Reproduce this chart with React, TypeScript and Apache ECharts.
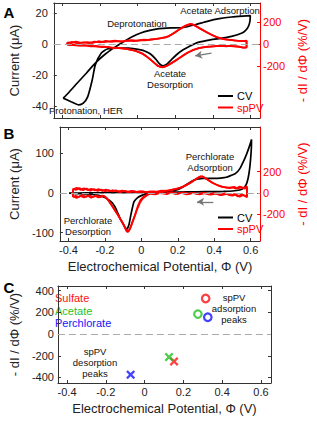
import React, { useEffect, useRef } from "react";
import * as echarts from "echarts";

// ---------- data ----------
const xTicks = [-0.4, -0.2, 0, 0.2, 0.4, 0.6];
const yTicksA = [-40, -20, 0, 20];
const yTicksB = [-100, 0, 100];
const yTicksC = [-400, -200, 0, 200, 400];
const rightTicks = [-200, 0, 200];

// Panel A: cyclic voltammogram (V, µA)
const cvA: number[][] = [
  [-0.397, -35], [-0.371, -31.8], [-0.323, -25.3], [-0.274, -18.8], [-0.226, -12.2], [-0.177, -6.8],
  [-0.129, -2.5], [-0.081, 1.2], [-0.032, 4.7], [0.016, 7.3], [0.065, 9.0], [0.113, 10.1], [0.177, 10.6],
  [0.242, 10.9], [0.306, 12.7], [0.371, 14.9], [0.435, 16.6], [0.5, 17.7], [0.56, 18.3], [0.6, 18.6],
  [0.598, 15], [0.59, 11.6], [0.575, 9], [0.556, 7.3], [0.5, 5.1], [0.451, 4.0], [0.387, 2.9], [0.322, 1.2],
  [0.274, -1.4], [0.242, -3.6], [0.21, -6.5], [0.18, -10], [0.155, -13], [0.135, -14], [0.115, -12.5],
  [0.095, -9.5], [0.07, -6.5], [0.04, -4.5], [0.016, -3.6], [-0.048, -2.5], [-0.113, -2.5], [-0.162, -3.1],
  [-0.194, -5.7], [-0.226, -13.4], [-0.242, -23.1], [-0.266, -34], [-0.29, -38.3], [-0.314, -39.4],
  [-0.355, -37.3], [-0.397, -35],
];

// Panel A: spPV cycles (V, %/V)
const spA1: number[][] = [
  [-0.375, 12], [-0.35, 22], [-0.32, 8], [-0.29, 18], [-0.26, 10], [-0.23, 24], [-0.2, 18], [-0.17, 32],
  [-0.14, 22], [-0.11, 30], [-0.08, 26], [-0.05, 35], [-0.02, 30], [0.01, 38], [0.04, 36], [0.07, 44],
  [0.1, 50], [0.13, 58], [0.16, 70], [0.19, 100], [0.22, 135], [0.245, 162], [0.265, 178], [0.28, 186],
  [0.295, 180], [0.31, 165], [0.33, 145], [0.36, 118], [0.39, 90], [0.42, 66], [0.45, 50], [0.48, 42],
  [0.51, 36], [0.54, 32], [0.565, 30], [0.58, 28], [0.58, -30], [0.565, -32], [0.54, -22], [0.51, -18],
  [0.48, -14], [0.45, -16], [0.42, -14], [0.39, -20], [0.36, -24], [0.33, -32], [0.3, -48], [0.27, -72],
  [0.24, -105], [0.21, -140], [0.18, -172], [0.155, -198], [0.13, -212], [0.11, -200], [0.09, -172],
  [0.07, -142], [0.05, -115], [0.03, -90], [0.0, -68], [-0.03, -52], [-0.06, -42], [-0.09, -36],
  [-0.12, -30], [-0.15, -28], [-0.18, -22], [-0.21, -20], [-0.24, -14], [-0.27, -12], [-0.3, -8],
  [-0.33, -10], [-0.36, -4], [-0.375, -2], [-0.375, 12],
];
const spA2: number[][] = [
  [-0.375, 18], [-0.355, 10], [-0.33, 25], [-0.3, 14], [-0.27, 20], [-0.24, 12], [-0.21, 28], [-0.18, 20],
  [-0.15, 26], [-0.12, 34], [-0.09, 24], [-0.06, 32], [-0.03, 38], [0.0, 32], [0.03, 42], [0.06, 40],
  [0.09, 48], [0.12, 54], [0.15, 64], [0.18, 88], [0.21, 122], [0.235, 150], [0.255, 170], [0.275, 182],
  [0.29, 184], [0.305, 172], [0.32, 158], [0.345, 132], [0.375, 104], [0.405, 78], [0.435, 58], [0.465, 46],
  [0.495, 40], [0.525, 34], [0.555, 30], [0.58, 34], [0.58, -26], [0.56, -28], [0.53, -20], [0.5, -14],
  [0.47, -18], [0.44, -12], [0.41, -18], [0.38, -22], [0.35, -28], [0.32, -38], [0.29, -56], [0.26, -82],
  [0.23, -115], [0.2, -150], [0.17, -182], [0.145, -205], [0.125, -208], [0.105, -195], [0.085, -165],
  [0.065, -135], [0.045, -108], [0.02, -80], [-0.01, -60], [-0.04, -48], [-0.07, -40], [-0.1, -32],
  [-0.13, -34], [-0.16, -24], [-0.19, -26], [-0.22, -16], [-0.25, -18], [-0.28, -10], [-0.31, -12],
  [-0.34, -6], [-0.36, -8], [-0.375, 0], [-0.375, 18],
];

// Panel B: cyclic voltammogram (V, µA)
const cvB: number[][] = [
  [-0.397, -1], [-0.3, 0], [-0.2, 0.3], [-0.1, 0.6], [0, 1], [0.1, 1.5], [0.145, 2.5], [0.17, 4.5],
  [0.193, 7], [0.218, 12], [0.242, 19], [0.266, 26], [0.29, 32], [0.315, 35], [0.339, 36], [0.37, 36],
  [0.403, 36], [0.435, 37], [0.467, 39], [0.49, 43], [0.516, 48], [0.54, 60], [0.564, 82], [0.578, 97],
  [0.59, 112], [0.6, 126], [0.605, 134], [0.604, 112], [0.6, 85], [0.594, 58], [0.586, 36], [0.575, 20],
  [0.56, 11], [0.54, 7], [0.5, 4.5], [0.45, 3.5], [0.4, 3], [0.3, 2.5], [0.2, 2], [0.1, 0.5], [0.05, -1.5],
  [0.02, -4], [0, -7], [-0.02, -12], [-0.04, -22], [-0.056, -52], [-0.068, -80], [-0.08, -91],
  [-0.09, -86], [-0.1, -78], [-0.113, -68], [-0.13, -50], [-0.145, -35], [-0.16, -25], [-0.178, -18],
  [-0.21, -10], [-0.24, -6], [-0.3, -3], [-0.35, -2], [-0.397, -1],
];

// Panel B: spPV cycles (V, %/V)
const spB1: number[][] = [
  [-0.375, 30], [-0.355, 48], [-0.335, 28], [-0.315, 42], [-0.295, 26], [-0.275, 38], [-0.255, 22],
  [-0.235, 34], [-0.215, 18], [-0.195, 30], [-0.175, 14], [-0.155, 24], [-0.13, 10], [-0.105, 20],
  [-0.08, 8], [-0.055, 18], [-0.03, 6], [-0.005, 16], [0.02, 4], [0.05, 14], [0.08, 8], [0.11, 20],
  [0.14, 18], [0.17, 30], [0.2, 40], [0.23, 58], [0.26, 85], [0.29, 118], [0.31, 142], [0.325, 155],
  [0.34, 150], [0.36, 128], [0.385, 100], [0.41, 78], [0.44, 58], [0.47, 48], [0.5, 52], [0.52, 40],
  [0.54, 58], [0.56, 45], [0.58, 60], [0.58, -42], [0.56, -20], [0.54, -38], [0.52, -15], [0.5, -28],
  [0.47, -10], [0.44, -22], [0.41, -8], [0.38, -18], [0.35, -4], [0.32, -14], [0.29, 0], [0.26, -10],
  [0.23, 4], [0.2, -8], [0.17, 6], [0.14, -12], [0.11, 2], [0.08, -14], [0.05, -4], [0.03, -22],
  [0.01, -40], [-0.005, -70], [-0.02, -130], [-0.035, -210], [-0.05, -280], [-0.062, -340],
  [-0.075, -372], [-0.088, -335], [-0.1, -290], [-0.115, -250], [-0.13, -205], [-0.145, -165],
  [-0.16, -125], [-0.175, -85], [-0.19, -50], [-0.205, -30], [-0.225, -42], [-0.245, -26], [-0.265, -40],
  [-0.285, -24], [-0.305, -38], [-0.325, -22], [-0.345, -40], [-0.36, -28], [-0.375, -40], [-0.375, 30],
];
const spB2: number[][] = [
  [-0.375, 40], [-0.36, 26], [-0.34, 44], [-0.32, 24], [-0.3, 40], [-0.28, 20], [-0.26, 36], [-0.24, 18],
  [-0.22, 30], [-0.2, 14], [-0.18, 26], [-0.16, 12], [-0.14, 22], [-0.115, 6], [-0.09, 18], [-0.065, 4],
  [-0.04, 16], [-0.015, 2], [0.01, 14], [0.035, 0], [0.065, 12], [0.095, 6], [0.125, 18], [0.155, 22],
  [0.185, 34], [0.215, 48], [0.245, 70], [0.275, 100], [0.3, 130], [0.32, 150], [0.335, 156], [0.35, 140],
  [0.37, 118], [0.395, 90], [0.425, 66], [0.455, 54], [0.485, 44], [0.51, 56], [0.53, 38], [0.55, 52],
  [0.57, 40], [0.58, 50], [0.58, -36], [0.57, -30], [0.55, -16], [0.53, -34], [0.51, -12], [0.49, -26],
  [0.46, -6], [0.43, -20], [0.4, -2], [0.37, -16], [0.34, 2], [0.31, -12], [0.28, -2], [0.25, -14],
  [0.22, 0], [0.19, -12], [0.16, 4], [0.13, -8], [0.1, -2], [0.07, -16], [0.045, -6], [0.025, -30],
  [0.008, -55], [-0.008, -95], [-0.025, -165], [-0.04, -240], [-0.055, -310], [-0.068, -360],
  [-0.08, -368], [-0.093, -320], [-0.107, -270], [-0.122, -228], [-0.138, -185], [-0.153, -145],
  [-0.168, -105], [-0.183, -68], [-0.198, -40], [-0.215, -26], [-0.235, -44], [-0.255, -30],
  [-0.275, -46], [-0.295, -28], [-0.315, -44], [-0.335, -30], [-0.355, -48], [-0.375, -32], [-0.375, 40],
];

// Panel C: spPV peaks
const anions = ["Sulfate", "Acetate", "Perchlorate"];
const anionColors = ["#ff1010", "#1fc21f", "#1414ff"];
const adsPeakV = [0.315, 0.275, 0.326];
const adsPeakVal = [328, 184, 155];
const desPeakV = [0.152, 0.126, -0.072];
const desPeakVal = [-252, -212, -374];

// ---------- styles ----------
const FONT = "'Liberation Sans', Arial, Helvetica, sans-serif";
const AX = "#333333";
const RED = "#ff0000";
const X_MIN = -0.447;
const X_MAX = 0.652;
const CROSS =
  "path://M0,1.8 L1.8,0 L5,3.2 L8.2,0 L10,1.8 L6.8,5 L10,8.2 L8.2,10 L5,6.8 L1.8,10 L0,8.2 L3.2,5 Z";

function xAx(gridIndex: number, pos: "bottom" | "top", labels: boolean) {
  return {
    type: "value",
    gridIndex,
    position: pos,
    min: X_MIN,
    max: X_MAX,
    axisLine: { show: true, onZero: false, lineStyle: { color: AX, width: 1 } },
    axisTick: { show: true, inside: true, length: 3, customValues: xTicks, lineStyle: { color: AX } },
    axisLabel: {
      show: labels,
      customValues: xTicks,
      margin: 3,
      fontSize: 11,
      color: "#222",
      fontFamily: FONT,
    },
    splitLine: { show: false },
    name: labels ? "Electrochemical Potential, \u03A6 (V)" : "",
    nameLocation: "middle",
    nameGap: 19,
    nameTextStyle: { fontSize: 13, color: "#222", fontFamily: FONT },
  };
}

function yAx(
  gridIndex: number,
  pos: "left" | "right",
  min: number,
  max: number,
  ticks: number[],
  color: string,
  labels: boolean,
  name: string,
  nameGap: number,
  margin: number
) {
  return {
    type: "value",
    gridIndex,
    position: pos,
    min,
    max,
    axisLine: { show: true, onZero: false, lineStyle: { color, width: 1 } },
    axisTick: { show: true, inside: true, length: 3, customValues: ticks, lineStyle: { color } },
    axisLabel: {
      show: labels,
      customValues: ticks,
      margin,
      fontSize: 11,
      color: color === RED ? RED : "#222",
      fontFamily: FONT,
    },
    splitLine: { show: false },
    name,
    nameLocation: "middle",
    nameRotate: 90,
    nameGap,
    nameTextStyle: { fontSize: 13, color: color === RED ? RED : "#222", fontFamily: FONT },
  };
}

function txt(text: string, x: number, y: number, size: number, color = "#111", align = "center", weight = "normal", lh?: number) {
  return {
    type: "text",
    x,
    y,
    silent: true,
    style: {
      text,
      fill: color,
      fontSize: size,
      fontFamily: FONT,
      fontWeight: weight,
      align,
      textAlign: align,
      verticalAlign: "middle",
      textVerticalAlign: "middle",
      lineHeight: lh ?? size * 1.15,
    },
  };
}

function legLine(y: number, color: string) {
  return {
    type: "line",
    silent: true,
    shape: { x1: 218, y1: y, x2: 233, y2: y },
    style: { stroke: color, lineWidth: 2 },
  };
}

const zeroLine = {
  silent: true,
  symbol: ["none", "none"],
  label: { show: false },
  lineStyle: { color: "#aaaaaa", type: [7, 4], width: 1.2 },
  data: [{ yAxis: 0 }],
};

function arrowLine(from: number[], to: number[]) {
  return {
    silent: true,
    symbol: ["none", "arrow"],
    symbolSize: [6, 7],
    label: { show: false },
    lineStyle: { color: "#777777", type: "solid", width: 1.3 },
    data: [[{ coord: from }, { coord: to }]],
  };
}

export default function App() {
  const ref = useRef<HTMLDivElement>(null);

  useEffect(() => {
    if (!ref.current) return;
    const chart = echarts.init(ref.current, null, { renderer: "svg" });

    const redLine = (data: number[][], xi: number, yi: number, extra: any = {}) => ({
      type: "line",
      xAxisIndex: xi,
      yAxisIndex: yi,
      data,
      showSymbol: false,
      symbol: "none",
      smooth: false,
      z: 4,
      lineStyle: { color: RED, width: 1.8 },
      ...extra,
    });

    const option: any = {
      animation: false,
      backgroundColor: "#ffffff",
      textStyle: { fontFamily: FONT },
      grid: [
        { left: 44, top: 3, width: 228, height: 115 },
        { left: 44, top: 127, width: 228, height: 114 },
        { left: 44, top: 286, width: 227, height: 97 },
      ],
      xAxis: [
        xAx(0, "bottom", false),
        xAx(0, "top", false),
        xAx(1, "bottom", true),
        xAx(1, "top", false),
        xAx(2, "bottom", true),
        xAx(2, "top", false),
      ],
      yAxis: [
        yAx(0, "left", -47.9, 26.8, yTicksA, AX, true, "Current (\u03BCA)", 25, 6),
        yAx(0, "right", -674, 378, rightTicks, RED, true, "- dI / d\u03A6 (%/V)", 29, 3),
        yAx(1, "left", -120.8, 165, yTicksB, AX, true, "Current (\u03BCA)", 25, 6),
        yAx(1, "right", -456, 622, rightTicks, RED, true, "- dI / d\u03A6 (%/V)", 29, 3),
        yAx(2, "left", -451, 443, yTicksC, AX, true, "- dI / d\u03A6 (%/V)", 27, 4),
        yAx(2, "right", -451, 443, yTicksC, AX, false, "", 0, 3),
      ],
      series: [
        {
          type: "line",
          xAxisIndex: 0,
          yAxisIndex: 0,
          data: cvA,
          showSymbol: false,
          symbol: "none",
          smooth: 0.2,
          z: 3,
          lineStyle: { color: "#000", width: 1.7 },
          markLine: zeroLine,
        },
        redLine(spA1, 0, 1, { markLine: arrowLine([0.393, -81], [0.306, -105]) }),
        redLine(spA2, 0, 1),
        {
          type: "line",
          xAxisIndex: 2,
          yAxisIndex: 2,
          data: cvB,
          showSymbol: false,
          symbol: "none",
          smooth: 0.2,
          z: 3,
          lineStyle: { color: "#000", width: 1.7 },
          markLine: zeroLine,
        },
        redLine(spB1, 2, 3, { markLine: arrowLine([0.395, -85], [0.306, -85]) }),
        redLine(spB2, 2, 3),
        ...anions.map((name, i) => ({
          type: "scatter",
          name: name + " adsorption",
          xAxisIndex: 4,
          yAxisIndex: 4,
          data: [[adsPeakV[i], adsPeakVal[i]]],
          symbol: "circle",
          symbolSize: 7.5,
          z: 5,
          itemStyle: { color: "rgba(0,0,0,0)", borderColor: anionColors[i], borderWidth: 2.2 },
          markLine: i === 0 ? zeroLine : undefined,
        })),
        ...anions.map((name, i) => ({
          type: "scatter",
          name: name + " desorption",
          xAxisIndex: 4,
          yAxisIndex: 4,
          data: [[desPeakV[i], desPeakVal[i]]],
          symbol: CROSS,
          symbolSize: 9,
          z: 5,
          itemStyle: { color: anionColors[i] },
        })),
      ],
      graphic: [
        txt("A", 9, 12, 15, "#000", "center", "bold"),
        txt("B", 9, 133, 15, "#000", "center", "bold"),
        txt("C", 9, 287, 15, "#000", "center", "bold"),
        // panel A annotations
        txt("Acetate Adsorption", 220, 10, 9.5),
        txt("Deprotonation", 137, 23, 9.5),
        txt("Acetate\nDesorption", 170, 79, 9.5, "#111", "center", "normal", 11.5),
        txt("Protonation, HER", 86, 110, 9.5),
        legLine(96, "#000"),
        txt("CV", 237, 96, 11, "#000", "left"),
        legLine(107.5, RED),
        txt("spPV", 237, 107.5, 11, RED, "left"),
        // panel B annotations
        txt("Perchlorate\nAdsorption", 210, 161.5, 9.5, "#111", "center", "normal", 11),
        txt("Perchlorate\nDesorption", 88, 226, 9.5, "#111", "center", "normal", 11),
        legLine(217.5, "#000"),
        txt("CV", 237, 217.5, 11, "#000", "left"),
        legLine(229, RED),
        txt("spPV", 237, 229, 11, RED, "left"),
        // panel C annotations
        ...anions.map((a, i) => txt(a, 55, 298 + i * 12.5, 11, anionColors[i], "left")),
        txt("spPV\nadsorption\npeaks", 234, 308, 9.5, "#111", "center", "normal", 11),
        txt("spPV\ndesorption\npeaks", 95, 362, 9.5, "#111", "center", "normal", 11),
      ],
    };

    chart.setOption(option);
    return () => chart.dispose();
  }, []);

  return (
    <div
      ref={ref}
      style={{ position: "fixed", left: 0, top: 0, width: 317, height: 422, background: "#fff" }}
    />
  );
}
